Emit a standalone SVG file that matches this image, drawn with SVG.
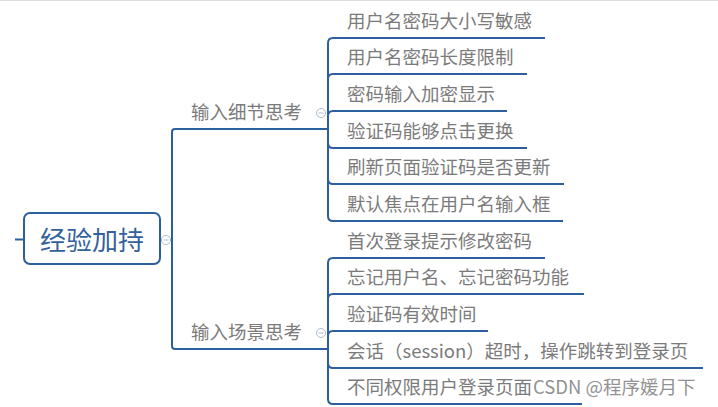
<svg xmlns="http://www.w3.org/2000/svg" width="718" height="407" viewBox="0 0 718 407">
<style>
  .bg{fill:#ffffff}
  .ln{fill:none;stroke:#2d5f9e;stroke-width:2;stroke-linecap:butt}
  .t{font-family:"Noto Sans CJK SC","Noto Sans",sans-serif;font-size:18.5px;fill:#7b7b7b}
  .root{font-family:"Noto Sans CJK SC","Noto Sans",sans-serif;font-size:26px;fill:#35619c}
  .box{fill:#ffffff;stroke:#2d5f9e;stroke-width:2}
  .cc{fill:#ffffff;stroke:#aebbd0;stroke-width:1}
  .cm{stroke:#aebbd0;stroke-width:1}
  .wm{font-family:"Noto Sans CJK SC","Noto Sans",sans-serif;font-size:18.5px;fill:#808080;opacity:0.85}
</style>
<defs>
  <g id="collapse"><circle class="cc" cx="0" cy="0" r="4.5"/><line class="cm" x1="-2.5" y1="0" x2="2.5" y2="0"/></g>
</defs>
<rect class="bg" x="0" y="0" width="718" height="407"/>
<line x1="0" y1="0.5" x2="718" y2="0.5" stroke="#dddddd" stroke-width="1"/>

<g id="connectors">
  <path class="ln" d="M15 239.5 H24"/>
  <path class="ln" d="M160 240 H172"/>
  <path class="ln" d="M172 240 V132 Q172 129 175 129"/>
  <path class="ln" d="M172 240 V346 Q172 349 175 349"/>
  <path class="ln" d="M328 129 V43 Q328 38 333 38"/>
  <path class="ln" d="M328 129 V79 Q328 74 333 74"/>
  <path class="ln" d="M328 129 V116 Q328 111 333 111"/>
  <path class="ln" d="M328 129 V143 Q328 148 333 148"/>
  <path class="ln" d="M328 129 V179 Q328 184 333 184"/>
  <path class="ln" d="M328 129 V216 Q328 221 333 221"/>
  <path class="ln" d="M328 349 V263 Q328 258 333 258"/>
  <path class="ln" d="M328 349 V299 Q328 294 333 294"/>
  <path class="ln" d="M328 349 V336 Q328 331 333 331"/>
  <path class="ln" d="M328 349 V363 Q328 368 333 368"/>
  <path class="ln" d="M328 349 V399 Q328 404 333 404"/>
</g>

<g id="root">
  <rect class="box" x="24" y="213" width="136" height="51" rx="6"/>
  <text class="root" x="92" y="250" text-anchor="middle">经验加持</text>
  <use href="#collapse" x="166" y="240"/>
</g>

<g id="branch1">
  <text class="t" x="191" y="119">输入细节思考</text>
  <path class="ln" d="M175 129 H328"/>
  <use href="#collapse" x="321" y="113"/>
</g>
<g id="branch2">
  <text class="t" x="191" y="339">输入场景思考</text>
  <path class="ln" d="M175 349 H328"/>
  <use href="#collapse" x="321" y="333"/>
</g>

<g id="b1c1"><text class="t" x="347" y="27.5">用户名密码大小写敏感</text><path class="ln" d="M333 38 H545"/></g>
<g id="b1c2"><text class="t" x="347" y="63.5">用户名密码长度限制</text><path class="ln" d="M333 74 H527"/></g>
<g id="b1c3"><text class="t" x="347" y="100.5">密码输入加密显示</text><path class="ln" d="M333 111 H507"/></g>
<g id="b1c4"><text class="t" x="347" y="137.5">验证码能够点击更换</text><path class="ln" d="M333 148 H527"/></g>
<g id="b1c5"><text class="t" x="347" y="173.5">刷新页面验证码是否更新</text><path class="ln" d="M333 184 H564"/></g>
<g id="b1c6"><text class="t" x="347" y="210.5">默认焦点在用户名输入框</text><path class="ln" d="M333 221 H563"/></g>

<g id="b2c1"><text class="t" x="347" y="247.5">首次登录提示修改密码</text><path class="ln" d="M333 258 H545"/></g>
<g id="b2c2"><text class="t" x="347" y="283.5">忘记用户名、忘记密码功能</text><path class="ln" d="M333 294 H584"/></g>
<g id="b2c3"><text class="t" x="347" y="320.5">验证码有效时间</text><path class="ln" d="M333 331 H488"/></g>
<g id="b2c4"><text class="t" x="347" y="357.5">会话（session）超时，操作跳转到登录页</text><path class="ln" d="M333 368 H703"/></g>
<g id="b2c5"><text class="t" x="347" y="393.5">不同权限用户登录页面</text><path class="ln" d="M333 404 H582"/></g>

<text class="wm" x="533" y="394">CSDN @程序媛月下</text>
</svg>
